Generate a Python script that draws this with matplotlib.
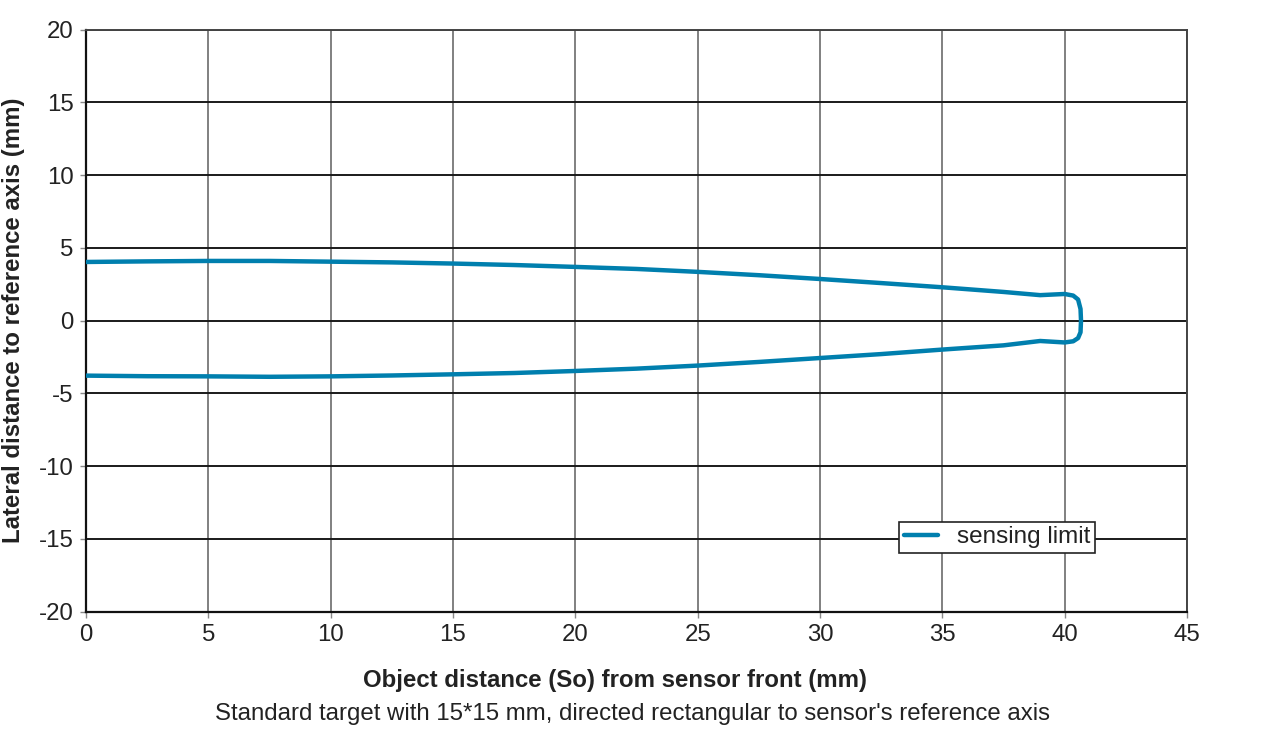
import numpy as np
import matplotlib
matplotlib.use('Agg')
import matplotlib.pyplot as plt

plt.rcParams['font.family'] = ['Liberation Sans', 'DejaVu Sans']
plt.rcParams['axes.unicode_minus'] = False

# upper branch of the sensing limit, left to right (mm)
upper_x = [0, 2.5, 5, 7.5, 10, 12.5, 15, 17.5, 20, 22.5, 25, 27.5, 30, 32.5,
           35, 37.5, 39, 40.0, 40.35, 40.55, 40.65, 40.67]
upper_y = [4.03, 4.07, 4.10, 4.10, 4.05, 4.00, 3.92, 3.82, 3.69, 3.55, 3.35,
           3.12, 2.86, 2.58, 2.29, 1.97, 1.75, 1.83, 1.72, 1.45, 0.80, 0.0]

# lower branch, right to left (mm)
lower_x = [40.65, 40.55, 40.35, 40.0, 39, 37.5, 35, 32.5, 30, 27.5, 25, 22.5,
           20, 17.5, 15, 12.5, 10, 7.5, 5, 2.5, 0]
lower_y = [-0.80, -1.20, -1.42, -1.50, -1.40, -1.70, -1.99, -2.30, -2.57,
           -2.84, -3.09, -3.30, -3.46, -3.60, -3.69, -3.77, -3.83, -3.86,
           -3.83, -3.82, -3.78]

xs = upper_x + lower_x
ys = upper_y + lower_y

fig = plt.figure(figsize=(12.8, 7.29), dpi=100)
ax = fig.add_axes([0.0672, 0.1609, 0.8601, 0.7986])

ax.plot(xs, ys, color='#007fae', lw=3.2, solid_joinstyle='round',
        solid_capstyle='round', label='sensing limit', zorder=3)

ax.set_xlim(0, 45)
ax.set_ylim(-20, 20)
ax.set_xticks(np.arange(0, 46, 5))
ax.set_yticks(np.arange(-20, 21, 5))

ax.yaxis.grid(True, color='#1a1a1a', lw=1.4)
ax.xaxis.grid(True, color='#808080', lw=1.4)
ax.set_axisbelow(True)

for s in ['left', 'bottom']:
    ax.spines[s].set_color('#111111')
    ax.spines[s].set_linewidth(1.6)
for s in ['top', 'right']:
    ax.spines[s].set_color('#444444')
    ax.spines[s].set_linewidth(1.4)

ax.tick_params(axis='both', direction='out', length=4, width=1,
               color='#888888', labelsize=17.3, labelcolor='#222222', pad=5)

ax.set_ylabel('Lateral distance to reference axis (mm)', fontsize=17.3,
              fontweight='bold', color='#222222', labelpad=10)

fig.text(0.4805, 0.067, 'Object distance (So) from sensor front (mm)',
         ha='center', va='center', fontsize=17.3, fontweight='bold',
         color='#222222')
fig.text(0.494, 0.021,
         "Standard target with 15*15 mm, directed rectangular to sensor's reference axis",
         ha='center', va='center', fontsize=17.3, color='#222222')

leg = ax.legend(loc='center', bbox_to_anchor=(0.7789, 0.2627),
                bbox_transform=fig.transFigure, fontsize=17.5, frameon=True,
                fancybox=False, framealpha=1, borderpad=0.2,
                handlelength=1.4, handletextpad=0.8, borderaxespad=0)
leg.get_frame().set_edgecolor('#222222')
leg.get_frame().set_linewidth(1.2)
for t in leg.get_texts():
    t.set_color('#222222')

plt.savefig('out.png', dpi=100)
